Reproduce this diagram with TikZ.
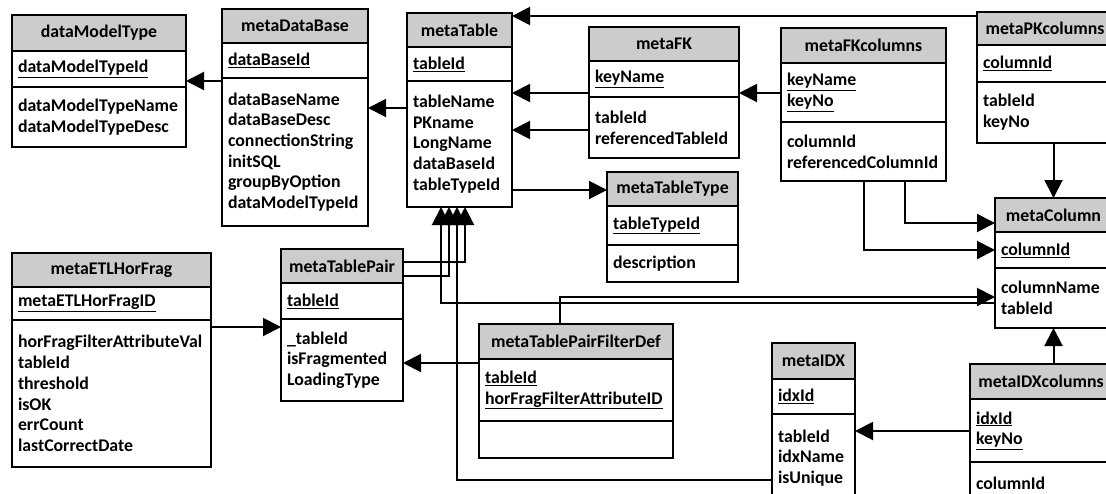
\documentclass[tikz,border=0pt]{standalone}
\usepackage{fontspec}
\setmainfont{Carlito}
\usetikzlibrary{positioning,arrows.meta}

\begin{document}
\begin{tikzpicture}[x=1pt, y=-1pt,
    tblhead/.style={draw, fill=gray!40, line width=1.2pt, outer sep=0pt, inner xsep=6pt, inner ysep=0pt,
      align=center, text width=#1, anchor=north west, font=\fontsize{17.8}{20.7}\selectfont\bfseries},
    tblpart/.style={draw, fill=white, line width=1.2pt, outer sep=0pt, inner xsep=6pt, inner ysep=0pt,
      align=left, text width=#1, font=\fontsize{17.8}{20.7}\selectfont\bfseries},
    fk/.style={line width=2pt, -{Triangle[length=18pt,width=18pt]}},
    fkplain/.style={line width=2pt}]
        \useasboundingbox (0,0) rectangle (1106,493);
        \clip (0,0) rectangle (1106,493);
        \fill [white] (0,0) rectangle (1106,493);

        % Tabelas
        \node[tblhead=162pt, minimum height=36pt] (dmt-h) at (12,15) {dataModelType};
        \node[tblpart=162pt, minimum height=36pt, below=0pt of dmt-h] (dmt-k) {\underline{dataModelTypeId}};
        \node[tblpart=162pt, minimum height=60pt, below=0pt of dmt-k] (dmt-a) {dataModelTypeName\\dataModelTypeDesc};

        \node[tblhead=134pt, minimum height=34pt] (mdb-h) at (222,9) {metaDataBase};
        \node[tblpart=134pt, minimum height=35pt, below=0pt of mdb-h] (mdb-k) {\underline{dataBaseId}};
        \node[tblpart=134pt, minimum height=148pt, below=0pt of mdb-k] (mdb-a) {dataBaseName\\dataBaseDesc\\connectionString\\initSQL\\groupByOption\\dataModelTypeId};

        \node[tblhead=93pt, minimum height=34pt] (mt-h) at (407,13) {metaTable};
        \node[tblpart=93pt, minimum height=34pt, below=0pt of mt-h] (mt-k) {\underline{tableId}};
        \node[tblpart=93pt, minimum height=126pt, below=0pt of mt-k] (mt-a) {tableName\\PKname\\LongName\\dataBaseId\\tableTypeId};

        \node[tblhead=138pt, minimum height=34pt] (mfk-h) at (589,27) {metaFK};
        \node[tblpart=138pt, minimum height=36pt, below=0pt of mfk-h] (mfk-k) {\underline{keyName}};
        \node[tblpart=138pt, minimum height=61pt, below=0pt of mfk-k] (mfk-a) {tableId\\referencedTableId};

        \node[tblhead=153pt, minimum height=35pt] (mfkc-h) at (781,28) {metaFKcolumns};
        \node[tblpart=153pt, minimum height=59pt, below=0pt of mfkc-h] (mfkc-k) {\underline{keyName}\\\underline{keyNo}};
        \node[tblpart=153pt, minimum height=59pt, below=0pt of mfkc-k] (mfkc-a) {columnId\\referencedColumnId};

        \node[tblhead=124pt, minimum height=33pt] (mpkc-h) at (977,12) {metaPKcolumns};
        \node[tblpart=124pt, minimum height=37pt, below=0pt of mpkc-h] (mpkc-k) {\underline{columnId}};
        \node[tblpart=124pt, minimum height=61pt, below=0pt of mpkc-k] (mpkc-a) {tableId\\keyNo};

        \node[tblhead=119pt, minimum height=34pt] (mtt-h) at (607,172) {metaTableType};
        \node[tblpart=119pt, minimum height=39pt, below=0pt of mtt-h] (mtt-k) {\underline{tableTypeId}};
        \node[tblpart=119pt, minimum height=37pt, below=0pt of mtt-k] (mtt-a) {description};

        \node[tblhead=105pt, minimum height=34pt] (mc-h) at (995,198) {metaColumn};
        \node[tblpart=105pt, minimum height=36pt, below=0pt of mc-h] (mc-k) {\underline{columnId}};
        \node[tblpart=105pt, minimum height=60pt, below=0pt of mc-k] (mc-a) {columnName\\tableId};

        \node[tblhead=187pt, minimum height=34pt] (metl-h) at (12,253) {metaETLHorFrag};
        \node[tblpart=187pt, minimum height=33pt, below=0pt of metl-h] (metl-k) {\underline{metaETLHorFragID}};
        \node[tblpart=187pt, minimum height=147pt, below=0pt of metl-k] (metl-a) {horFragFilterAttributeVal\\tableId\\threshold\\isOK\\errCount\\lastCorrectDate};

        \node[tblhead=110pt, minimum height=34pt] (mtp-h) at (281,249) {metaTablePair};
        \node[tblpart=110pt, minimum height=36pt, below=0pt of mtp-h] (mtp-k) {\underline{tableId}};
        \node[tblpart=110pt, minimum height=82pt, below=0pt of mtp-k] (mtp-a) {\_tableId\\isFragmented\\LoadingType};

        \node[tblhead=182pt, minimum height=35pt] (mtpf-h) at (479,324) {metaTablePairFilterDef};
        \node[tblpart=182pt, minimum height=62pt, below=0pt of mtpf-h] (mtpf-k) {\underline{tableId}\\\underline{horFragFilterAttributeID}};
        \node[tblpart=182pt, minimum height=37pt, below=0pt of mtpf-k] (mtpf-a) {};

        \node[tblhead=71pt, minimum height=36pt] (midx-h) at (772,343) {metaIDX};
        \node[tblpart=71pt, minimum height=35pt, below=0pt of midx-h] (midx-k) {\underline{idxId}};
        \node[tblpart=71pt, minimum height=88pt, below=0pt of midx-k] (midx-a) {tableId\\idxName\\isUnique};

        \node[tblhead=130pt, minimum height=35pt] (midxc-h) at (970,364) {metaIDXcolumns};
        \node[tblpart=130pt, minimum height=63pt, below=0pt of midxc-h] (midxc-k) {\underline{idxId}\\\underline{keyNo}};
        \node[tblpart=130pt, minimum height=43pt, below=0pt of midxc-k] (midxc-a) {columnId};

        % Ligacoes
        \draw [fk] (mdb-a.west |- 0,81) -- (dmt-k.east |- 0,81);
        \draw [fk] (mt-a.west |- 0,108) -- (mdb-a.east |- 0,108);
        \draw [fk] (mfk-k.west |- 0,93) -- (mt-a.east |- 0,93);
        \draw [fk] (mfk-a.west |- 0,130) -- (mt-a.east |- 0,130);
        \draw [fk] (mfkc-k.west |- 0,93) -- (mfk-k.east |- 0,93);
        \draw [fk] (mpkc-h.west |- 0,16) -- (mt-h.east |- 0,16);
        \draw [fk] (mt-a.east |- 0,190) -- (mtt-h.west |- 0,190);

        \draw [fk] (mc-h.north |- mpkc-a.south) -- (mc-h.north);
        \draw [fk] (mfkc-a.south -| 905,0) |- (mc-h.west |- 0,223);
        \draw [fk] (mfkc-a.south -| 864,0) |- (mc-k.west |- 0,250);
        \draw [fk] (mtpf-h.north -| 560,0) |- (mc-a.west |- 0,297);
        \draw [fk] (mc-a.south |- midxc-h.north) -- (mc-a.south);

        \draw [fk] (mc-a.west |- 0,303) -| (mt-a.south -| 441,0);
        \draw [fk] (mtp-h.east |- 0,276) -| (mt-a.south -| 449,0);
        \draw [fk] (midx-a.west |- 0,480) -| (mt-a.south -| 457,0);
        \draw [fk] (mtp-h.east |- 0,262) -| (mt-a.south -| 465,0);

        \draw [fk] (metl-a.east |- 0,327) -- (mtp-a.west |- 0,327);
        \draw [fk] (mtpf-k.west |- 0,363) -- (mtp-a.east |- 0,363);
        \draw [fk] (midxc-k.west |- 0,431) -- (midx-a.east |- 0,431);
    \end{tikzpicture}
\end{document}
